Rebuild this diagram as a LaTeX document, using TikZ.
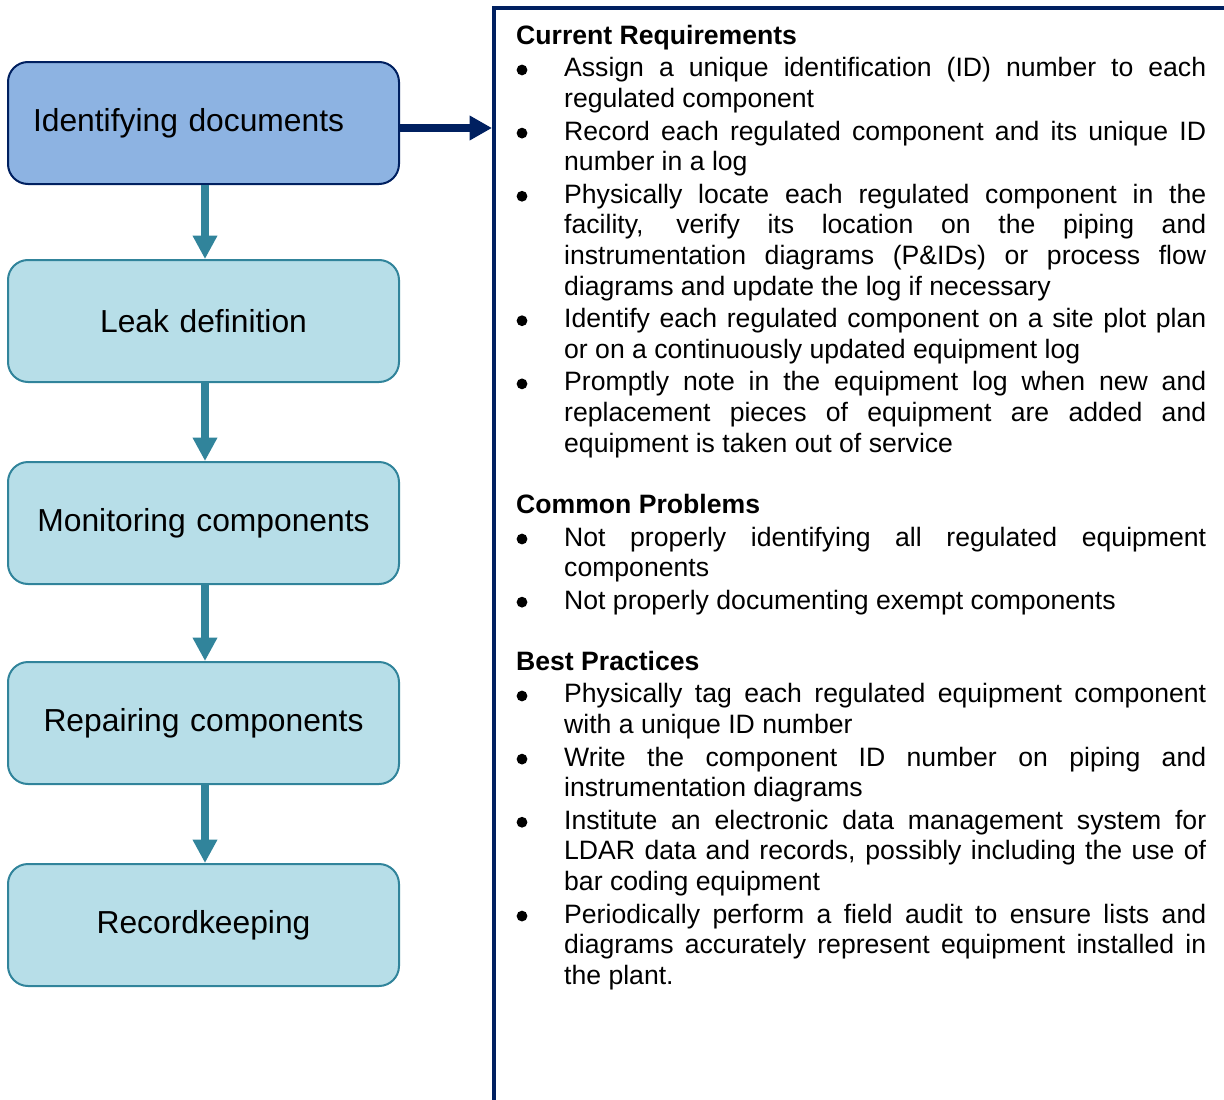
\documentclass[tikz,border=0pt]{standalone}
\usepackage{fontspec}
\setmainfont{Liberation Sans}
\usetikzlibrary{arrows.meta}

\definecolor{navy}{RGB}{0,32,96}
\definecolor{boxblue}{RGB}{141,179,226}
\definecolor{boxcyan}{RGB}{183,222,232}
\definecolor{flowteal}{RGB}{49,132,155}

\tikzset{
  stepbox/.style={draw=flowteal, fill=boxcyan, line width=2pt, rounded corners=20pt,
    minimum width=391pt, minimum height=122pt, inner xsep=25pt, inner ysep=0pt,
    text width=341pt, align=center, font=\fontsize{31.8}{36}\selectfont},
  firstbox/.style={stepbox, draw=navy, fill=boxblue, align=left},
  downarrow/.style={draw=flowteal, line width=8pt,
    -{Triangle[length=23.5pt,width=23.5pt]}},
  rightarrow/.style={draw=navy, line width=8pt,
    -{Triangle[length=22.5pt,width=23.5pt]}},
  panel/.style={draw=navy, line width=4pt},
  bodytext/.style={anchor=base west, inner sep=0pt, font=\fontsize{26.6}{30.5}\selectfont},
  headtext/.style={bodytext, font=\fontsize{26.6}{30.5}\selectfont\bfseries},
}

% one line of the right-hand column: justified, last line of an item, heading
\newcommand\justln[3]{\node[bodytext] (#1) at (564,-#2) {\makebox[642pt][s]{#3}};}
\newcommand\lastln[3]{\node[bodytext] (#1) at (564,-#2) {#3};}
\newcommand\headln[3]{\node[headtext] (#1) at (516,-#2) {#3};}
\newcommand\bulletat[1]{\fill (522,-#1+7) circle (5.4pt);}

\begin{document}
\begin{tikzpicture}[x=1pt,y=1pt]
\useasboundingbox (0,0) rectangle (1224,-1100);

% process steps
\node[firstbox] (s1) at (203.5,-123) {Identifying documents};
\node[stepbox]  (s2) at (203.5,-321) {Leak definition};
\node[stepbox]  (s3) at (203.5,-523) {Monitoring components};
\node[stepbox]  (s4) at (203.5,-723) {Repairing components};
\node[stepbox]  (s5) at (203.5,-925) {Recordkeeping};

\foreach \a/\b in {s1/s2, s2/s3, s3/s4, s4/s5}
  \draw[downarrow] ([xshift=1.5pt]\a.south) -- ([xshift=1.5pt]\b.north);

% detail panel (open to the right and bottom)
\draw[panel] (494,-1110) -- (494,-8) -- (1240,-8);
\coordinate (pin) at (492,-128);
\draw[rightarrow] (s1.east |- pin) -- (pin);

% Current Requirements
\headln{h1}{44.5}{Current Requirements}
\bulletat{76.97}
\justln{a1}{76.97}{Assign a unique identification (ID) number to each}
\lastln{a2}{107.64}{regulated component}
\bulletat{140.11}
\justln{b1}{140.11}{Record each regulated component and its unique ID}
\lastln{b2}{170.78}{number in a log}
\bulletat{203.25}
\justln{c1}{203.25}{Physically locate each regulated component in the}
\justln{c2}{233.92}{facility, verify its location on the piping and}
\justln{c3}{264.59}{instrumentation diagrams (P\&IDs) or process flow}
\lastln{c4}{295.26}{diagrams and update the log if necessary}
\bulletat{327.73}
\justln{d1}{327.73}{Identify each regulated component on a site plot plan}
\lastln{d2}{358.40}{or on a continuously updated equipment log}
\bulletat{390.87}
\justln{e1}{390.87}{Promptly note in the equipment log when new and}
\justln{e2}{421.54}{replacement pieces of equipment are added and}
\lastln{e3}{452.21}{equipment is taken out of service}

% Common Problems
\headln{h2}{513.55}{Common Problems}
\bulletat{546.02}
\justln{f1}{546.02}{Not properly identifying all regulated equipment}
\lastln{f2}{576.69}{components}
\bulletat{609.16}
\lastln{g1}{609.16}{Not properly documenting exempt components}

% Best Practices
\headln{h3}{670.5}{Best Practices}
\bulletat{702.97}
\justln{i1}{702.97}{Physically tag each regulated equipment component}
\lastln{i2}{733.64}{with a unique ID number}
\bulletat{766.11}
\justln{j1}{766.11}{Write the component ID number on piping and}
\lastln{j2}{796.78}{instrumentation diagrams}
\bulletat{829.25}
\justln{k1}{829.25}{Institute an electronic data management system for}
\justln{k2}{859.92}{LDAR data and records, possibly including the use of}
\lastln{k3}{890.59}{bar coding equipment}
\bulletat{923.06}
\justln{m1}{923.06}{Periodically perform a field audit to ensure lists and}
\justln{m2}{953.73}{diagrams accurately represent equipment installed in}
\lastln{m3}{984.4}{the plant.}
\end{tikzpicture}
\end{document}
